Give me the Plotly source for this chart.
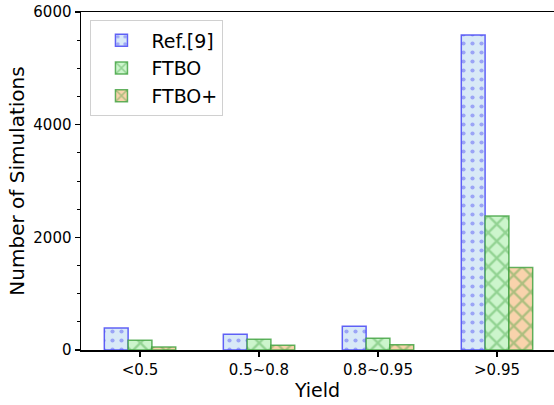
import plotly.graph_objects as go

# Yield bins and simulation counts per method
categories = ["<0.5", "0.5~0.8", "0.8~0.95", ">0.95"]
ref9 = [390, 278, 420, 5590]
ftbo = [172, 190, 207, 2380]
ftbo_plus = [53, 83, 94, 1465]

series = [
    ("Ref.[9]", ref9, "#d8e9f7", "rgba(70,70,245,0.85)", ".", 9, 0.17),
    ("FTBO", ftbo, "#ccf5cc", "rgba(60,160,60,0.8)", "x", 12, 0.35),
    ("FTBO+", ftbo_plus, "#f9d3ac", "rgba(60,160,60,0.8)", "x", 12, 0.35),
]

fig = go.Figure()
for name, vals, fill, edge, shape, size, sol in series:
    fig.add_trace(go.Bar(
        name=name,
        x=categories,
        y=vals,
        marker=dict(
            color=fill,
            line=dict(color=edge, width=1.5),
            pattern=dict(shape=shape, fgcolor=edge, size=size, solidity=sol,
                         fillmode="overlay"),
        ),
    ))

font = "DejaVu Sans, sans-serif"
fig.update_layout(
    width=554, height=405,
    margin=dict(l=81, r=0, t=12, b=55),
    paper_bgcolor="white", plot_bgcolor="white",
    barmode="group", bargap=0.4, bargroupgap=0,
    font=dict(family=font, size=15, color="black"),
    showlegend=True,
    legend=dict(
        x=0.02, y=0.975, xanchor="left", yanchor="top",
        font=dict(size=19, family=font),
        bgcolor="rgba(255,255,255,0.9)",
        bordercolor="#d0d0d0", borderwidth=1,
        itemwidth=50, tracegroupgap=2,
    ),
    xaxis=dict(
        range=[-0.496, 3.479],
        showline=True, linecolor="black", linewidth=1.5, mirror=True,
        ticks="outside", ticklen=5, tickcolor="black", tickwidth=1.2,
        tickfont=dict(size=15),
        title=dict(text="Yield", font=dict(size=19), standoff=6),
        showgrid=False, zeroline=False,
    ),
    yaxis=dict(
        range=[0, 6000],
        tickvals=[0, 2000, 4000, 6000],
        showline=True, linecolor="black", linewidth=1.5, mirror=False,
        ticks="outside", ticklen=5, tickcolor="black", tickwidth=1.2,
        minor=dict(dtick=500, ticks="outside", ticklen=3, tickcolor="black",
                   tickwidth=1, showgrid=False),
        tickfont=dict(size=15),
        title=dict(text="Number of Simulations", font=dict(size=20), standoff=3),
        showgrid=False, zeroline=False,
    ),
)

# static figure: no drag handles or mode bar
fig.write_html("out.html", config={"staticPlot": True})
